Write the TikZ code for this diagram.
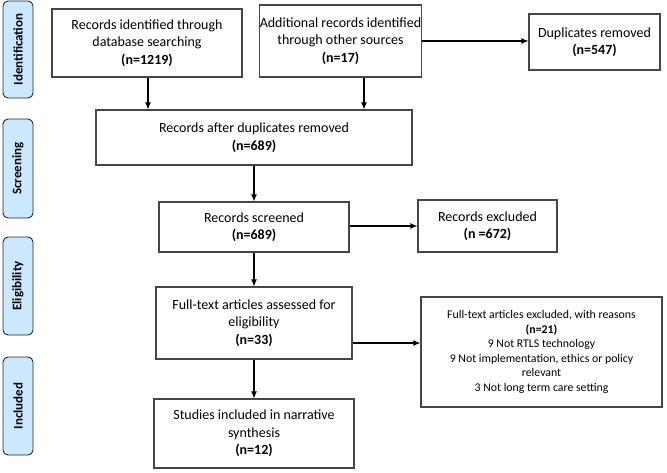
\documentclass[tikz,border=0pt]{standalone}
\usepackage{fontspec}
\setmainfont{Carlito}
\usetikzlibrary{arrows.meta}
\definecolor{phaseblue}{RGB}{204,232,255}
\definecolor{edgegray}{RGB}{70,70,70}
\begin{document}
\begin{tikzpicture}[x=1pt,y=-1pt,
  box/.style={draw=edgegray, line width=1.1pt, fill=white, align=center, inner sep=0pt,
              font=\fontsize{14}{17.5}\selectfont},
  smallbox/.style={box, font=\fontsize{11.8}{14.6}\selectfont},
  phase/.style={draw=black!85, fill=phaseblue, rounded corners=5pt, line width=0.9pt,
                rotate=90, inner sep=0pt, minimum height=30pt,
                font=\bfseries\fontsize{13}{15}\selectfont},
  arr/.style={-{Latex[length=7pt,width=6pt]}, line width=1.1pt, black}]
\useasboundingbox (0,0) rectangle (667,472);

% phase labels
\node[phase, minimum width=97pt] (pid) at (18,49.5) {Identification};
\node[phase, minimum width=99pt] (psc) at (18,168.5) {Screening};
\node[phase, minimum width=98pt] (pel) at (18,286) {Eligibility};
\node[phase, minimum width=98pt] (pin) at (18,406) {Included};

% boxes
\node[box, minimum width=190pt, minimum height=68pt] (b1) at (147,43)
  {Records identified through\\database searching\\\textbf{(n=1219)}};
\node[box, minimum width=145pt, minimum height=72pt] (b2) at (340.5,41)
  {Additional records identified\\through other sources\\\textbf{(n=17)}};
\node[box, minimum width=131pt, minimum height=56pt] (b3) at (594.5,42)
  {Duplicates removed\\\textbf{(n=547)}};
\node[box, minimum width=316pt, minimum height=55pt] (b4) at (254,137.5)
  {Records after duplicates removed\\\textbf{(n=689)}};
\node[box, minimum width=190pt, minimum height=50pt] (b5) at (254,227)
  {Records screened\\\textbf{(n=689)}};
\node[box, minimum width=139pt, minimum height=52pt] (b6) at (487.5,226)
  {Records excluded\\\textbf{(n =672)}};
\node[box, minimum width=196pt, minimum height=72pt] (b7) at (254,323)
  {Full-text articles assessed for\\eligibility\\\textbf{(n=33)}};
\node[smallbox, minimum width=241pt, minimum height=110pt] (b8) at (541.5,352)
  {Full-text articles excluded, with reasons\\\textbf{(n=21)}\\9 Not RTLS technology\\9 Not implementation, ethics or policy\\relevant\\3 Not long term care setting};
\node[box, minimum width=200pt, minimum height=69pt] (b9) at (254,433.5)
  {Studies included in narrative\\synthesis\\\textbf{(n=12)}};

% connectors
\draw[arr] ([xshift=1pt]b1.south) -- ([xshift=1pt]b1.south |- b4.north);
\draw[arr] ([xshift=23.5pt]b2.south) -- ([xshift=23.5pt]b2.south |- b4.north);
\draw[arr] (b2.east) -- (b2.east -| b3.west);
\draw[arr] (b4.south) -- (b5.north);
\draw[arr] ([yshift=1pt]b5.east) -- ([yshift=1pt]b5.east -| b6.west);
\draw[arr] (b5.south) -- (b7.north);
\draw[arr] ([yshift=-20pt]b7.east) -- ([yshift=-20pt]b7.east -| b8.west);
\draw[arr] (b7.south) -- (b9.north);
\end{tikzpicture}
\end{document}
